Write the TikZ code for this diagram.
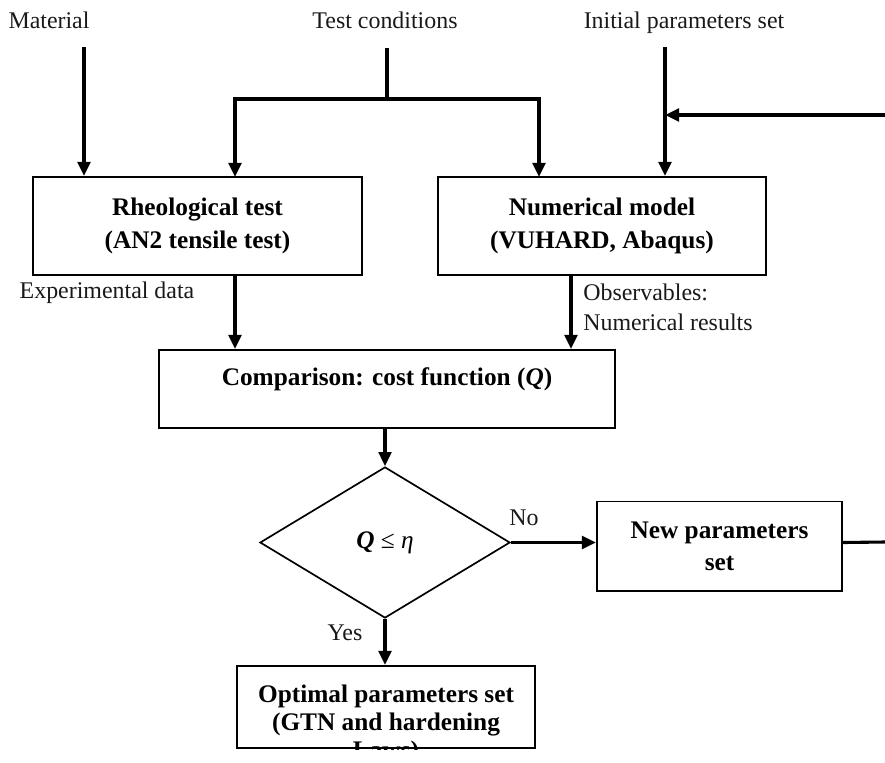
\documentclass[tikz,border=0pt]{standalone}
\usepackage{fontspec}
\setmainfont{Liberation Serif}
\usetikzlibrary{positioning,shapes.geometric,arrows.meta}

\begin{document}
\begin{tikzpicture}[
    x=0.025cm, y=-0.025cm,
    font=\fontsize{17}{21}\selectfont,
    tag/.style={inner sep=0pt, text=black!90},
    box/.style={rectangle, draw, line width=1.4pt, align=center, inner sep=0pt,
                font=\fontsize{18}{23}\selectfont\bfseries},
    decision/.style={diamond, draw, line width=1.2pt, inner sep=0pt,
                     minimum width=6.25cm, minimum height=3.775cm,
                     font=\fontsize{18}{23}\selectfont},
    flow/.style={line width=2.2pt},
    arrow/.style={flow, -{Triangle[length=10pt,width=9pt]}},
  ]
  \useasboundingbox (0,0) rectangle (885,762);

  % INPUTS
  \node[tag, anchor=base] (material) at (49,29) {Material};
  \node[tag, anchor=base] (testcond) at (385,29) {Test conditions};
  \node[tag, anchor=base] (initpar)  at (684,29) {Initial parameters set};
  \coordinate (matin)   at (84,47);
  \coordinate (tcin)    at (387,48);
  \coordinate (tcsplit) at (387,99);
  \coordinate (rheotc)  at (235,177);
  \coordinate (numtc)   at (539,177);
  \coordinate (initin)  at (665,47);
  \coordinate (loopin)  at (885,115);
  \coordinate (loopout) at (885,542);
  \coordinate (numobs)  at (571,0);

  % TESTS AND MODEL
  \node[box, minimum width=8.225cm, minimum height=2.45cm] (rheo) at (197.5,226)
    {Rheological test\\(AN2 tensile test)};
  \node[box, minimum width=8.2cm, minimum height=2.45cm] (numer) at (602,226)
    {Numerical model\\(VUHARD, Abaqus)};
  \node[tag] (expdata) at (107,293) {Experimental data};
  \node[tag, anchor=west, align=left] (observ) at (583,307.5)
    {Observables:\\Numerical results};

  % COMPARISON
  \node[box, minimum width=11.4cm, minimum height=1.95cm] (comp) at (387,389)
    {Comparison: cost function (\textit{Q})\\[-6pt]~};
  \node[decision] (dec) at (385,542.5)
    {\textbf{\textit{Q}} ≤ \textit{η}};
  \node[tag] (no)  at (524,518) {No};
  \node[tag] (yes) at (345,633) {Yes};
  \node[box, minimum width=6.125cm, minimum height=2.225cm] (newp) at (719.5,546)
    {New parameters\\set};

  % RESULT (text cut at the box bottom)
  \node[box, minimum width=7.45cm, minimum height=2.05cm] (opt) at (386,707) {};
  \begin{scope}
    \clip (opt.south west) rectangle (opt.north east);
    \node[box, draw=none, anchor=north, font=\fontsize{18}{20}\selectfont\bfseries]
      (opttext) at ([yshift=-0.475cm]opt.north)
      {Optimal parameters set\\(GTN and hardening\\Laws)};
  \end{scope}

  % CONNECTORS
  \draw[arrow] (matin) -- (matin |- rheo.north);
  \draw[flow]  (tcin) -- (tcsplit);
  \draw[arrow] (tcsplit) -| (rheotc);
  \draw[arrow] (tcsplit) -| (numtc);
  \draw[arrow] (initin) -- (initin |- numer.north);
  \draw[arrow] (loopin) -- (loopin -| initin);
  \draw[arrow] (rheotc |- rheo.south) -- (rheotc |- comp.north);
  \draw[arrow] (numobs |- numer.south) -- (numobs |- comp.north);
  \draw[arrow] (dec.north |- comp.south) -- (dec.north);
  \draw[arrow] (dec.east) -- (dec.east -| newp.west);
  \draw[flow]  (newp.east |- dec.east) -- (loopout);
  \draw[arrow] (dec.south) -- (dec.south |- opt.north);

\end{tikzpicture}
\end{document}
